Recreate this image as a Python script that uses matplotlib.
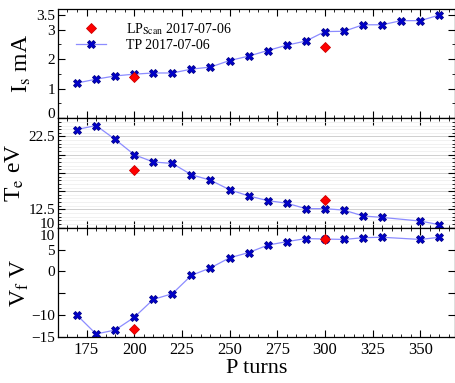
import matplotlib
matplotlib.use("Agg")
import matplotlib.pyplot as plt
from matplotlib.ticker import MultipleLocator, FixedLocator, FixedFormatter
from matplotlib.transforms import ScaledTranslation

plt.rcParams['font.family'] = ['Liberation Serif', 'DejaVu Serif']
plt.rcParams['mathtext.fontset'] = 'stix'

# TP probe data
tp_p = [170, 180, 190, 200, 210, 220, 230, 240, 250, 260,
        270, 280, 290, 300, 310, 320, 330, 340, 350, 360]
tp_is = [1.19, 1.32, 1.43, 1.49, 1.53, 1.53, 1.66, 1.73, 1.95, 2.10,
         2.29, 2.47, 2.61, 2.93, 2.94, 3.16, 3.16, 3.30, 3.30, 3.49]

tp_p2 = [170, 180, 190, 200, 210, 220, 230, 240, 250, 260,
         270, 280, 290, 300, 310, 320, 330, 350, 360]
tp_te = [23.45, 24.0, 22.1, 20.0, 19.0, 18.8, 17.25, 16.5, 15.2, 14.35,
         13.7, 13.35, 12.6, 12.6, 12.4, 11.6, 11.4, 10.9, 10.4]
tp_vf = [-10.0, -14.3, -13.4, -10.5, -6.4, -5.1, -0.9, 0.8, 3.1, 4.3,
         6.0, 6.8, 7.5, 7.4, 7.3, 7.7, 7.8, 7.3, 7.8]

# LP scan data
lp_p = [200, 300]
lp_is = [1.39, 2.41]
lp_te = [17.9, 13.75]
lp_vf = [-13.1, 7.5]

# tick labels
is_ticks = [0, 1, 2, 3, 3.5]
is_labels = ['0', '1', '2', '3', '3.5']
te_ticks = [10, 12.5, 15, 17.5, 20, 22.5, 25]
te_labels = ['10', '12.5', '', '', '', '22.5', '']
vf_ticks = [-15, -10, -5, 0, 5, 10]
vf_labels = ['\u221215', '\u221210', '', '0', '5', '10']

fig, axs = plt.subplots(3, 1, sharex=True, figsize=(4.56, 3.83), dpi=100)
fig.subplots_adjust(left=0.127, right=0.997, top=0.977, bottom=0.12, hspace=0)

line_kw = dict(color='#8c8cff', lw=0.9, marker='X', ms=6,
               mfc='#0000cc', mec='#00008b', mew=0.6, zorder=2)
lp_kw = dict(ls='none', marker='D', ms=5.5, mfc='#ff0000', mec='#cc0000',
             mew=0.6, zorder=3)

ax = axs[0]
ax.plot(lp_p, lp_is, label=r'LP$_{\rm Scan}$ 2017-07-06', **lp_kw)
ax.plot(tp_p, tp_is, label='TP 2017-07-06', **line_kw)
ax.set_ylim(0, 3.7)
ax.yaxis.set_major_locator(FixedLocator(is_ticks))
ax.yaxis.set_major_formatter(FixedFormatter(is_labels))
ax.yaxis.set_minor_locator(MultipleLocator(0.5))
ax.set_ylabel(r'I$_{\rm s}$ mA', fontsize=17, labelpad=2)
ax.legend(loc='upper left', frameon=False, fontsize=10, handlelength=2.2,
          handletextpad=1.4, borderaxespad=0.3, bbox_to_anchor=(0.02, 0.98),
          labelspacing=0.15)

ax = axs[1]
ax.plot(lp_p, lp_te, **lp_kw)
ax.plot(tp_p2, tp_te, **line_kw)
ax.set_ylim(10, 25)
ax.yaxis.set_major_locator(FixedLocator(te_ticks))
ax.yaxis.set_major_formatter(FixedFormatter(te_labels))
ax.yaxis.set_minor_locator(MultipleLocator(0.5))
ax.grid(True, which='major', axis='y', color='#c8c8c8', lw=0.6)
ax.grid(True, which='minor', axis='y', color='#ececec', lw=0.5)
ax.set_axisbelow(True)
ax.set_ylabel(r'T$_{\rm e}$ eV', fontsize=17, labelpad=2)

ax = axs[2]
ax.plot(lp_p, lp_vf, **lp_kw)
ax.plot(tp_p2, tp_vf, **line_kw)
ax.set_ylim(-15, 10)
ax.yaxis.set_major_locator(FixedLocator(vf_ticks))
ax.yaxis.set_major_formatter(FixedFormatter(vf_labels))
ax.set_ylabel(r'V$_{\rm f}$ V', fontsize=17, labelpad=0)
ax.set_xlabel('P turns', fontsize=16, labelpad=1)

ax.set_xlim(160, 368)
ax.xaxis.set_major_locator(MultipleLocator(25))
ax.xaxis.set_minor_locator(MultipleLocator(5))

for a in axs:
    a.tick_params(which='both', direction='in', top=True, right=True, labelsize=11)
    a.tick_params(which='major', length=5, width=0.8)
    a.tick_params(which='minor', length=2.5, width=0.6)
    a.tick_params(axis='y', pad=2)
    for s in a.spines.values():
        s.set_linewidth(0.9)
axs[2].tick_params(axis='x', labelsize=12)

# nudge labels at the panel edges so they don't collide
fig.canvas.draw()
def nudge(a, loc, dy):
    for t in a.yaxis.get_major_ticks():
        if abs(t.get_loc() - loc) < 1e-9:
            t.label1.set_transform(t.label1.get_transform() +
                                   ScaledTranslation(0, dy / 72, fig.dpi_scale_trans))

nudge(axs[0], 0, 4)
nudge(axs[1], 10, 3.5)
nudge(axs[2], 10, -5.5)

fig.savefig('out.png', dpi=100)
